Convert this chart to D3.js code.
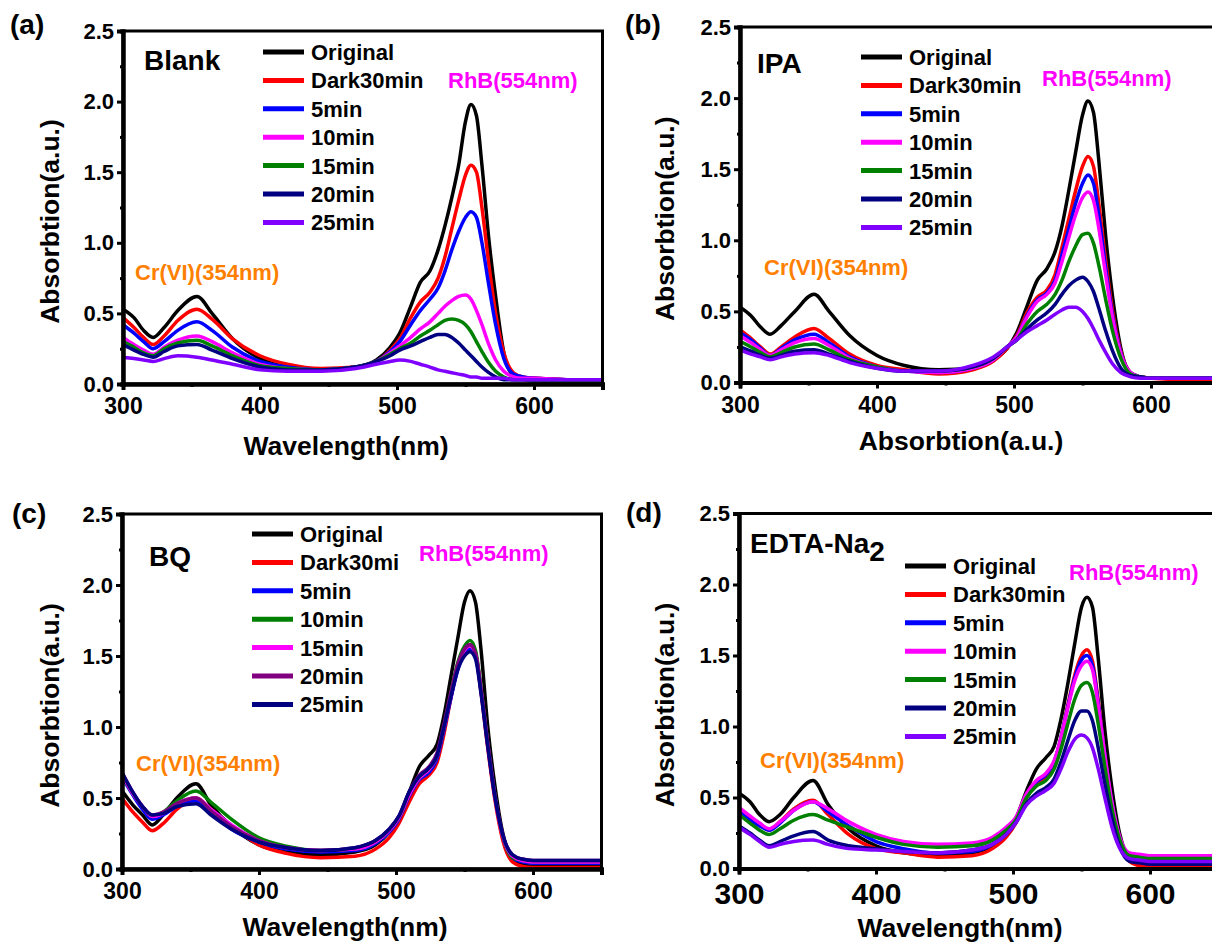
<!DOCTYPE html>
<meta charset="utf-8">
<style>
  body { margin: 0; background: #fff; }
  text { font-family: "Liberation Sans", Arial, sans-serif; font-weight: bold; }
</style>
<svg width="1212" height="943"></svg>
<script src="https://d3js.org/d3.v7.min.js"></script>
<script>

// wavelength sample points (nm), shared by every spectrum
var wavelengths = [300,308,315,322,330,340,354,365,380,400,420,445,470,485,495,502,510,517,524,530,535,540,545,550,554,558,562,567,572,578,585,592,600,625,650];

var yTicks = [0, 0.5, 1.0, 1.5, 2.0, 2.5];
var yMinor = [0.25, 0.75, 1.25, 1.75, 2.25];
var xTicks = [300, 400, 500, 600];
var xMinor = [350, 450, 550, 650];

// (a) Blank
var legendA = ["Original", "Dark30min", "5min", "10min", "15min", "20min", "25min"];
var colorsA = ["#000000", "#ff0000", "#0000ff", "#ff00ff", "#008000", "#000080", "#8000ff"];
var blankSeries = [
  [.53,.47,.38,.33,.40,.52,.62,.50,.32,.18,.12,.10,.12,.17,.26,.36,.55,.72,.80,.95,1.12,1.32,1.55,1.86,1.98,1.90,1.55,1.03,.62,.22,.06,.04,.04,.03,.03],
  [.47,.40,.33,.28,.34,.45,.53,.46,.32,.20,.14,.11,.12,.16,.24,.32,.47,.58,.65,.75,.90,1.10,1.30,1.48,1.55,1.50,1.25,.85,.50,.22,.08,.05,.04,.03,.03],
  [.42,.36,.30,.25,.30,.38,.44,.38,.26,.16,.12,.10,.12,.16,.23,.30,.42,.52,.60,.68,.80,.95,1.08,1.18,1.22,1.18,1.00,.70,.42,.18,.07,.05,.04,.03,.03],
  [.33,.28,.24,.21,.26,.31,.34,.30,.22,.14,.11,.10,.12,.16,.22,.27,.33,.39,.44,.50,.55,.59,.62,.63,.60,.52,.42,.28,.17,.09,.05,.04,.04,.03,.03],
  [.30,.26,.22,.20,.25,.29,.31,.27,.20,.13,.11,.10,.12,.16,.21,.25,.29,.34,.38,.42,.45,.46,.45,.42,.37,.30,.23,.15,.09,.05,.03,.03,.02,.02,.02],
  [.28,.24,.21,.19,.23,.27,.28,.24,.18,.12,.10,.10,.12,.16,.20,.24,.27,.30,.33,.35,.35,.33,.29,.24,.20,.16,.12,.08,.05,.03,.03,.03,.03,.03,.03],
  [.19,.18,.17,.16,.18,.20,.19,.17,.14,.10,.09,.09,.11,.14,.16,.17,.16,.14,.12,.10,.09,.08,.07,.06,.05,.05,.04,.04,.04,.04,.03,.03,.03,.03,.03]
];

// (b) IPA
var legendB = ["Original", "Dark30min", "5min", "10min", "15min", "20min", "25min"];
var colorsB = ["#000000", "#ff0000", "#0000ff", "#ff00ff", "#008000", "#000080", "#8000ff"];
var ipaSeries = [
  [.53,.47,.39,.34,.40,.50,.62,.50,.33,.19,.12,.09,.10,.16,.24,.35,.55,.72,.80,.92,1.10,1.35,1.62,1.88,1.98,1.90,1.55,1.02,.60,.24,.06,.04,.03,.03,.03],
  [.37,.31,.25,.20,.25,.32,.38,.31,.20,.12,.09,.06,.09,.15,.24,.33,.50,.60,.65,.76,.95,1.15,1.35,1.52,1.59,1.52,1.25,.85,.50,.22,.07,.04,.03,.02,.02],
  [.35,.30,.24,.19,.24,.30,.34,.28,.18,.11,.08,.07,.10,.16,.25,.32,.48,.58,.63,.72,.90,1.08,1.26,1.40,1.46,1.40,1.17,.80,.47,.21,.07,.04,.03,.03,.03],
  [.33,.28,.23,.19,.23,.28,.31,.26,.17,.11,.08,.07,.10,.16,.25,.32,.47,.57,.62,.70,.85,1.02,1.18,1.30,1.34,1.28,1.08,.75,.45,.20,.07,.04,.03,.03,.03],
  [.29,.25,.21,.18,.21,.25,.27,.23,.16,.11,.08,.08,.11,.17,.25,.30,.42,.50,.55,.62,.72,.85,.96,1.04,1.05,.98,.82,.58,.36,.17,.06,.04,.03,.03,.03],
  [.25,.22,.19,.17,.19,.22,.23,.20,.15,.10,.08,.08,.11,.17,.25,.30,.38,.44,.49,.55,.62,.68,.72,.74,.71,.64,.52,.36,.22,.10,.05,.04,.03,.03,.03],
  [.23,.20,.18,.16,.18,.20,.21,.19,.14,.10,.08,.08,.12,.18,.25,.30,.36,.40,.44,.48,.51,.53,.53,.50,.45,.38,.30,.21,.13,.07,.04,.03,.03,.03,.03]
];

// (c) BQ
var legendC = ["Original", "Dark30mi", "5min", "10min", "15min", "20min", "25min"];
var colorsC = ["#000000", "#ff0000", "#0000ff", "#008000", "#ff00ff", "#800080", "#000080"];
var bqSeries = [
  [.55,.45,.38,.31,.38,.50,.60,.45,.30,.17,.12,.10,.12,.17,.26,.36,.55,.72,.80,.88,1.08,1.35,1.62,1.88,1.96,1.88,1.55,1.00,.60,.25,.07,.03,.02,.02,.02],
  [.50,.40,.33,.27,.32,.42,.50,.42,.30,.17,.11,.08,.09,.14,.22,.32,.48,.60,.66,.75,.95,1.20,1.42,1.55,1.58,1.52,1.25,.85,.50,.20,.05,.02,.01,.01,.01],
  [.65,.52,.42,.35,.38,.44,.48,.40,.28,.19,.14,.12,.13,.18,.26,.35,.52,.63,.68,.78,.98,1.20,1.40,1.52,1.55,1.50,1.26,.88,.53,.23,.08,.05,.04,.04,.04],
  [.66,.53,.44,.37,.40,.48,.55,.47,.35,.22,.16,.13,.14,.19,.27,.36,.53,.64,.70,.80,1.00,1.24,1.45,1.57,1.61,1.54,1.28,.88,.53,.23,.08,.06,.05,.05,.05],
  [.67,.53,.44,.37,.39,.46,.50,.42,.31,.20,.15,.13,.14,.19,.27,.36,.53,.64,.70,.80,1.00,1.22,1.42,1.54,1.57,1.51,1.26,.87,.52,.23,.09,.06,.05,.05,.05],
  [.68,.54,.44,.38,.40,.46,.50,.41,.30,.20,.15,.13,.15,.20,.28,.37,.55,.66,.72,.82,1.02,1.24,1.44,1.55,1.58,1.52,1.27,.88,.53,.24,.10,.07,.06,.06,.06],
  [.68,.54,.44,.38,.39,.44,.46,.38,.28,.19,.15,.13,.15,.20,.28,.37,.55,.65,.71,.80,1.00,1.21,1.40,1.50,1.53,1.48,1.24,.86,.52,.24,.10,.07,.06,.06,.06]
];

// (d) EDTA-Na2
var legendD = ["Original", "Dark30min", "5min", "10min", "15min", "20min", "25min"];
var colorsD = ["#000000", "#ff0000", "#0000ff", "#ff00ff", "#008000", "#000080", "#8000ff"];
var edtaSeries = [
  [.53,.47,.38,.33,.38,.50,.62,.45,.28,.16,.11,.09,.11,.16,.24,.35,.55,.70,.78,.86,1.05,1.30,1.58,1.84,1.91,1.84,1.50,.98,.58,.24,.07,.03,.02,.02,.02],
  [.42,.36,.31,.27,.33,.42,.48,.38,.24,.14,.11,.08,.09,.14,.22,.32,.50,.60,.64,.74,.92,1.15,1.36,1.50,1.54,1.46,1.20,.80,.46,.18,.05,.02,.01,.01,.01],
  [.40,.34,.30,.27,.32,.41,.47,.40,.30,.19,.14,.11,.12,.17,.25,.34,.52,.61,.66,.75,.92,1.14,1.34,1.47,1.50,1.43,1.18,.80,.47,.20,.07,.05,.04,.04,.04],
  [.43,.37,.32,.28,.33,.41,.47,.42,.33,.24,.19,.17,.18,.22,.29,.36,.53,.62,.67,.76,.92,1.13,1.32,1.43,1.46,1.40,1.16,.80,.48,.22,.11,.10,.09,.09,.09],
  [.38,.32,.27,.24,.28,.34,.38,.34,.29,.22,.17,.15,.16,.20,.27,.34,.50,.58,.62,.70,.84,1.02,1.19,1.29,1.31,1.24,1.03,.72,.43,.20,.09,.08,.07,.07,.07],
  [.30,.25,.20,.16,.19,.23,.26,.20,.16,.14,.12,.11,.13,.17,.24,.32,.46,.53,.57,.63,.75,.90,1.04,1.11,1.11,1.04,.86,.60,.36,.15,.05,.04,.03,.03,.03],
  [.29,.24,.19,.15,.17,.19,.20,.17,.14,.13,.12,.11,.13,.17,.24,.32,.45,.51,.55,.60,.70,.82,.91,.94,.92,.85,.71,.50,.30,.14,.07,.06,.05,.05,.05]
];

var svg = d3.select("svg");

// layout of the four panels (pixels)
var panels = [
  {key:"a", left:123, top:31, bottom:384, series:blankSeries, names:legendA, colors:colorsA,
   title:"Blank", titleX:144, titleY:70, xTitle:"Wavelength(nm)", xTitleX:346, xTitleY:455, yTitleX:50, xTickSize:23,
   legX:263, legY:52, rhbX:448, rhbY:88, crX:135, crY:280, letterX:10, letterY:34},
  {key:"b", left:740, top:27, bottom:382.5, series:ipaSeries, names:legendB, colors:colorsB,
   title:"IPA", titleX:757, titleY:73, xTitle:"Absorbtion(a.u.)", xTitleX:961, xTitleY:450, yTitleX:665, xTickSize:23,
   legX:861, legY:57, rhbX:1042, rhbY:86, crX:764, crY:275, letterX:625, letterY:34},
  {key:"c", left:122, top:514, bottom:869, series:bqSeries, names:legendC, colors:colorsC,
   title:"BQ", titleX:149, titleY:566, xTitle:"Wavelength(nm)", xTitleX:345, xTitleY:936, yTitleX:50, xTickSize:23,
   legX:252, legY:534, rhbX:419, rhbY:561, crX:136, crY:771, letterX:12, letterY:523},
  {key:"d", left:739, top:513.5, bottom:868.5, series:edtaSeries, names:legendD, colors:colorsD,
   title:"EDTA-Na", titleX:750, titleY:553, xTitle:"Wavelength(nm)", xTitleX:960, xTitleY:937, yTitleX:665, xTickSize:30,
   legX:905, legY:566, rhbX:1069, rhbY:580, crX:760, crY:768, letterX:626, letterY:522}
];

panels.forEach(drawPanel);

function drawPanel(p) {
  var x = d3.scaleLinear().domain([300, 650]).range([p.left, p.left + 479.5]);
  var y = d3.scaleLinear().domain([0, 2.5]).range([p.bottom, p.top]);
  var g = svg.append("g").attr("class", "panel-" + p.key);

  g.append("clipPath").attr("id", "clip-" + p.key)
    .append("rect")
      .attr("x", x(300)).attr("y", y(2.5))
      .attr("width", x(650) - x(300)).attr("height", y(0) - y(2.5));

  var line = d3.line()
    .x(function(d, i) { return x(wavelengths[i]); })
    .y(function(d) { return y(d); })
    .curve(d3.curveMonotoneX);

  g.append("g")
    .attr("clip-path", "url(#clip-" + p.key + ")")
    .selectAll("path")
    .data(p.series)
    .enter().append("path")
      .attr("d", line)
      .attr("fill", "none")
      .attr("stroke", function(d, i) { return p.colors[i]; })
      .attr("stroke-width", 3.5)
      .attr("stroke-linejoin", "round");

  // frame
  g.append("rect")
    .attr("x", x(300)).attr("y", y(2.5))
    .attr("width", x(650) - x(300)).attr("height", y(0) - y(2.5))
    .attr("fill", "none").attr("stroke", "#000").attr("stroke-width", 3);

  // axes
  var yAxis = g.append("g").attr("transform", "translate(" + x(300) + ",0)")
    .call(d3.axisLeft(y).tickValues(yTicks).tickFormat(d3.format(".1f")).tickSize(6).tickPadding(3));
  var yAxisMinor = g.append("g").attr("transform", "translate(" + x(300) + ",0)")
    .call(d3.axisLeft(y).tickValues(yMinor).tickFormat("").tickSize(3));
  var xAxis = g.append("g").attr("transform", "translate(0," + y(0) + ")")
    .call(d3.axisBottom(x).tickValues(xTicks).tickFormat(d3.format("d")).tickSize(6).tickPadding(8));
  var xAxisMinor = g.append("g").attr("transform", "translate(0," + y(0) + ")")
    .call(d3.axisBottom(x).tickValues(xMinor).tickFormat("").tickSize(3));

  [yAxis, yAxisMinor, xAxis, xAxisMinor].forEach(function(a) {
    a.select(".domain").attr("stroke-width", 4);
    a.selectAll(".tick line").attr("stroke-width", 3);
  });
  yAxis.selectAll("text").attr("font-size", 22).attr("fill", "#000")
    .style("font-family", "'Liberation Sans', Arial, sans-serif").style("font-weight", "bold");
  xAxis.selectAll("text").attr("font-size", p.xTickSize).attr("fill", "#000")
    .style("font-family", "'Liberation Sans', Arial, sans-serif").style("font-weight", "bold");

  // axis titles
  g.append("text")
    .attr("x", p.xTitleX)
    .attr("y", p.xTitleY)
    .attr("text-anchor", "middle")
    .attr("font-size", 26.5)
    .text(p.xTitle);
  g.append("text")
    .attr("transform", "translate(" + (p.yTitleX + 9) + "," + ((y(0) + y(2.5)) / 2 + 14) + ") rotate(-90)")
    .attr("text-anchor", "middle")
    .attr("font-size", 26.5)
    .text("Absorbtion(a.u.)");

  // panel letter
  g.append("text")
    .attr("x", p.letterX).attr("y", p.letterY)
    .attr("font-size", 28)
    .text("(" + p.key + ")");

  // scavenger name
  var t = g.append("text")
    .attr("x", p.titleX).attr("y", p.titleY)
    .attr("font-size", 28)
    .text(p.title);
  if (p.key == "d") {
    t.append("tspan").attr("dy", 8).text("2");
  }

  // peak labels
  g.append("text")
    .attr("x", p.rhbX).attr("y", p.rhbY)
    .attr("font-size", 22).attr("fill", "#ff00ff")
    .text("RhB(554nm)");
  g.append("text")
    .attr("x", p.crX).attr("y", p.crY)
    .attr("font-size", 22).attr("fill", "#ff8000")
    .text("Cr(VI)(354nm)");

  // legend
  var leg = g.append("g").selectAll("g")
    .data(p.names)
    .enter().append("g")
      .attr("transform", function(d, i) { return "translate(" + p.legX + "," + (p.legY + i * 28.4) + ")"; });
  leg.append("line")
    .attr("x1", 0).attr("x2", 41)
    .attr("stroke", function(d, i) { return p.colors[i]; })
    .attr("stroke-width", 5);
  leg.append("text")
    .attr("x", 48).attr("y", 8)
    .attr("font-size", 22)
    .text(function(d) { return d; });
}

</script>
